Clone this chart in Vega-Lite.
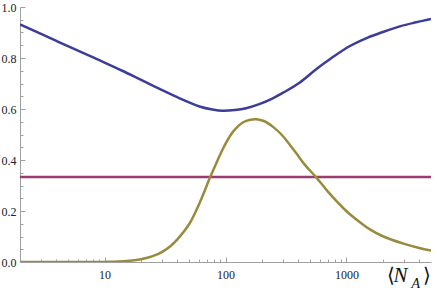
{
  "$schema": "https://vega.github.io/schema/vega-lite/v6.json",
  "width": 411,
  "height": 255,
  "autosize": {"type": "none"},
  "padding": {"left": 20, "top": 7, "right": 6, "bottom": 28},
  "background": "white",
  "config": {
    "view": {"stroke": null},
    "font": "Liberation Serif",
    "axis": {"grid": false, "labelFont": "Liberation Serif", "labelFontSize": 12, "labelColor": "#222", "domainColor": "#a0a0a0", "tickColor": "#a0a0a0", "titleFont": "Liberation Serif", "titleColor": "#111", "titleFontWeight": "normal"}
  },
  "data": {"values": [
    {"s": "a", "o": 1, "x": 2, "v": 0.932},
    {"s": "a", "o": 1, "x": 4, "v": 0.867},
    {"s": "a", "o": 1, "x": 7, "v": 0.815},
    {"s": "a", "o": 1, "x": 10, "v": 0.782},
    {"s": "a", "o": 1, "x": 14, "v": 0.750},
    {"s": "a", "o": 1, "x": 19.5, "v": 0.717},
    {"s": "a", "o": 1, "x": 28.5, "v": 0.679},
    {"s": "a", "o": 1, "x": 41.7, "v": 0.642},
    {"s": "a", "o": 1, "x": 61, "v": 0.610},
    {"s": "a", "o": 1, "x": 78, "v": 0.598},
    {"s": "a", "o": 1, "x": 95, "v": 0.593},
    {"s": "a", "o": 1, "x": 120, "v": 0.596},
    {"s": "a", "o": 1, "x": 148, "v": 0.603},
    {"s": "a", "o": 1, "x": 190, "v": 0.619},
    {"s": "a", "o": 1, "x": 246, "v": 0.642},
    {"s": "a", "o": 1, "x": 300, "v": 0.664},
    {"s": "a", "o": 1, "x": 409, "v": 0.703},
    {"s": "a", "o": 1, "x": 562, "v": 0.756},
    {"s": "a", "o": 1, "x": 748, "v": 0.799},
    {"s": "a", "o": 1, "x": 1060, "v": 0.846},
    {"s": "a", "o": 1, "x": 1500, "v": 0.88},
    {"s": "a", "o": 1, "x": 2000, "v": 0.902},
    {"s": "a", "o": 1, "x": 2800, "v": 0.925},
    {"s": "a", "o": 1, "x": 3770, "v": 0.94},
    {"s": "a", "o": 1, "x": 5000, "v": 0.953},
    {"s": "b", "o": 2, "x": 2, "v": 0.3333},
    {"s": "b", "o": 2, "x": 5000, "v": 0.3333},
    {"s": "c", "o": 3, "x": 2, "v": 0},
    {"s": "c", "o": 3, "x": 5, "v": 0},
    {"s": "c", "o": 3, "x": 8, "v": 0},
    {"s": "c", "o": 3, "x": 10, "v": 0.0004},
    {"s": "c", "o": 3, "x": 13, "v": 0.0018},
    {"s": "c", "o": 3, "x": 16, "v": 0.005},
    {"s": "c", "o": 3, "x": 20, "v": 0.011},
    {"s": "c", "o": 3, "x": 25, "v": 0.023},
    {"s": "c", "o": 3, "x": 30, "v": 0.04},
    {"s": "c", "o": 3, "x": 35, "v": 0.062},
    {"s": "c", "o": 3, "x": 40, "v": 0.089},
    {"s": "c", "o": 3, "x": 50, "v": 0.148},
    {"s": "c", "o": 3, "x": 57, "v": 0.2},
    {"s": "c", "o": 3, "x": 65, "v": 0.262},
    {"s": "c", "o": 3, "x": 74, "v": 0.328},
    {"s": "c", "o": 3, "x": 85, "v": 0.393},
    {"s": "c", "o": 3, "x": 95, "v": 0.443},
    {"s": "c", "o": 3, "x": 110, "v": 0.497},
    {"s": "c", "o": 3, "x": 122, "v": 0.524},
    {"s": "c", "o": 3, "x": 140, "v": 0.548},
    {"s": "c", "o": 3, "x": 160, "v": 0.558},
    {"s": "c", "o": 3, "x": 180, "v": 0.56},
    {"s": "c", "o": 3, "x": 210, "v": 0.552},
    {"s": "c", "o": 3, "x": 250, "v": 0.528},
    {"s": "c", "o": 3, "x": 290, "v": 0.5},
    {"s": "c", "o": 3, "x": 330, "v": 0.468},
    {"s": "c", "o": 3, "x": 380, "v": 0.43},
    {"s": "c", "o": 3, "x": 450, "v": 0.383},
    {"s": "c", "o": 3, "x": 562, "v": 0.332},
    {"s": "c", "o": 3, "x": 700, "v": 0.277},
    {"s": "c", "o": 3, "x": 850, "v": 0.233},
    {"s": "c", "o": 3, "x": 1000, "v": 0.199},
    {"s": "c", "o": 3, "x": 1300, "v": 0.155},
    {"s": "c", "o": 3, "x": 1550, "v": 0.129},
    {"s": "c", "o": 3, "x": 2000, "v": 0.101},
    {"s": "c", "o": 3, "x": 2920, "v": 0.073},
    {"s": "c", "o": 3, "x": 4000, "v": 0.055},
    {"s": "c", "o": 3, "x": 5000, "v": 0.045}
  ]},
  "resolve": {"axis": {"x": "independent", "y": "independent"}},
  "layer": [
    {
      "mark": {"type": "line", "strokeWidth": 2.5, "interpolate": "catmull-rom", "clip": true},
      "encoding": {
        "x": {"field": "x", "type": "quantitative", "scale": {"type": "log", "domain": [2, 5000], "nice": false, "zero": false},
              "axis": {"orient": "bottom", "values": [10, 100, 1000], "format": "d", "tickSize": -5, "labelPadding": 12, "labelFlush": false,
                       "title": "⟨", "titleFontSize": 20, "titleX": 366, "titleY": 19, "titleAlign": "left", "titleBaseline": "alphabetic", "titleAnchor": null}},
        "y": {"field": "v", "type": "quantitative", "scale": {"domain": [0, 1], "nice": false},
              "axis": {"orient": "left", "values": [0, 0.2, 0.4, 0.6, 0.8, 1.0], "format": ".1f", "tickSize": -5, "labelPadding": 9, "labelFlush": false, "title": null}},
        "color": {"field": "s", "type": "nominal", "legend": null, "scale": {"domain": ["a", "b", "c"], "range": ["#3d3d99", "#993d71", "#998b3d"]}},
        "order": {"field": "o"}
      }
    },
    {
      "mark": {"type": "line", "strokeOpacity": 0},
      "encoding": {
        "x": {"field": "x", "type": "quantitative",
              "axis": {"orient": "bottom", "values": [3, 4, 5, 6, 7, 8, 9, 20, 30, 40, 50, 60, 70, 80, 90, 200, 300, 400, 500, 600, 700, 800, 900, 2000, 3000, 4000], "labels": false, "domain": false, "tickSize": -3,
                       "title": "N", "titleFontSize": 21, "titleFontStyle": "italic", "titleX": 373, "titleY": 19, "titleAlign": "left", "titleBaseline": "alphabetic", "titleAnchor": null}},
        "y": {"field": "v", "type": "quantitative",
              "axis": {"orient": "left", "values": [0.05, 0.1, 0.15, 0.25, 0.3, 0.35, 0.45, 0.5, 0.55, 0.65, 0.7, 0.75, 0.85, 0.9, 0.95], "labels": false, "domain": false, "tickSize": -3, "title": null}}
      }
    },
    {
      "mark": {"type": "line", "strokeOpacity": 0},
      "encoding": {
        "x": {"field": "x", "type": "quantitative",
              "axis": {"orient": "bottom", "values": [], "labels": false, "domain": false, "ticks": false,
                       "title": "A", "titleFontSize": 14, "titleFontStyle": "italic", "titleX": 391, "titleY": 25, "titleAlign": "left", "titleBaseline": "alphabetic", "titleAnchor": null}},
        "y": {"field": "v", "type": "quantitative", "axis": null}
      }
    },
    {
      "mark": {"type": "line", "strokeOpacity": 0},
      "encoding": {
        "x": {"field": "x", "type": "quantitative",
              "axis": {"orient": "bottom", "values": [], "labels": false, "domain": false, "ticks": false,
                       "title": "⟩", "titleFontSize": 20, "titleX": 402, "titleY": 19, "titleAlign": "left", "titleBaseline": "alphabetic", "titleAnchor": null}},
        "y": {"field": "v", "type": "quantitative", "axis": null}
      }
    }
  ]
}
